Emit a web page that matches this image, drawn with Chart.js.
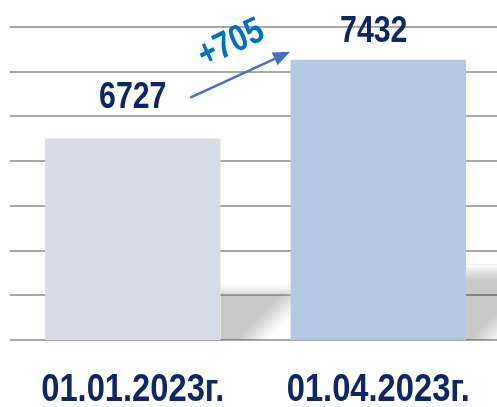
<!DOCTYPE html>
<html><head><meta charset="utf-8">
<script src="https://cdn.jsdelivr.net/npm/chart.js@4"></script>
<style>html,body{margin:0;padding:0;background:#fff;overflow:hidden;}#wrap{width:501px;height:407px;position:relative;}</style>
</head><body><div id="wrap"><canvas id="c"></canvas></div>
<script>
const categories = ['01.01.2023г.', '01.04.2023г.'];
const values = [6727, 7432];
const barColors = ['#d5dce6', '#b4c7e7'];
const yMin = 4925, yMax = 7725, yStep = 400;

const NAVY = '#0b2766';
const FONT = '"Liberation Sans", Arial, sans-serif';
const labelOffsets = [{dx: 0, dy: 31}, {dx: -4.5, dy: 18}];

function narrowText(ctx, text, x, y, size, color, squeeze, angleDeg) {
  ctx.save();
  ctx.translate(x, y);
  if (angleDeg) ctx.rotate(angleDeg * Math.PI / 180);
  ctx.scale(squeeze, 1);
  ctx.font = 'bold ' + size + 'px ' + FONT;
  ctx.fillStyle = color;
  ctx.fillText(text, 0, 0);
  ctx.restore();
}

const shadowPlugin = {
  id: 'barShadow',
  beforeDatasetsDraw(chart) {
    const ctx = chart.ctx;
    const base = chart.chartArea.bottom;
    ctx.save();
    ctx.globalCompositeOperation = 'multiply';
    chart.getDatasetMeta(0).data.forEach(bar => {
      const right = bar.x + bar.width / 2;
      const h = base - bar.y;
      const top = base - 0.27 * h;
      const fade = base - 0.215 * h;
      const w = 90, d = 57 - 0.14 * h;
      const grey = 'rgb(201,201,201)';
      ctx.save();
      ctx.beginPath(); ctx.rect(right, top, w, base - top); ctx.clip();
      const g = ctx.createLinearGradient(right + d - 7, base - 7, right + d + 9, base + 9);
      g.addColorStop(0, grey); g.addColorStop(1, 'rgb(255,255,255)');
      ctx.fillStyle = g;
      ctx.fillRect(right, top, w, base - top);
      ctx.globalCompositeOperation = 'source-over';
      const v = ctx.createLinearGradient(0, top, 0, fade);
      v.addColorStop(0, 'rgba(255,255,255,1)'); v.addColorStop(1, 'rgba(255,255,255,0)');
      ctx.fillStyle = v;
      ctx.fillRect(right, top, w, fade - top);
      ctx.restore();
    });
    ctx.restore();
  }
};

const labelPlugin = {
  id: 'valueLabels',
  afterDatasetsDraw(chart) {
    const ctx = chart.ctx;
    const bars = chart.getDatasetMeta(0).data;
    ctx.save();
    ctx.textAlign = 'center'; ctx.textBaseline = 'alphabetic';
    bars.forEach((b, i) => narrowText(ctx, String(values[i]), b.x + labelOffsets[i].dx, b.y - labelOffsets[i].dy, 37, NAVY, 0.82));
    // arrow
    const b0 = bars[0], b1 = bars[1];
    const sx = b0.x + 57.5, sy = b0.y - 41;
    const tx = b1.x - b1.width / 2 - 0.5, ty = b1.y - 8;
    const ang = Math.atan2(ty - sy, tx - sx);
    const hl = 17, hw = 7;
    const bx = tx - hl * Math.cos(ang), by = ty - hl * Math.sin(ang);
    ctx.strokeStyle = '#4472c4'; ctx.fillStyle = '#4472c4'; ctx.lineWidth = 2.5;
    ctx.beginPath(); ctx.moveTo(sx, sy); ctx.lineTo(bx, by); ctx.stroke();
    ctx.beginPath(); ctx.moveTo(tx, ty);
    ctx.lineTo(bx + hw * Math.sin(ang), by - hw * Math.cos(ang));
    ctx.lineTo(bx - hw * Math.sin(ang), by + hw * Math.cos(ang));
    ctx.closePath(); ctx.fill();
    // difference label
    const delta = values[1] - values[0];
    ctx.textBaseline = 'middle';
    narrowText(ctx, '+' + delta, (sx + tx) / 2 - 9, (sy + ty) / 2 - 31, 37, '#0070c0', 0.82, -25);
    ctx.restore();
  },
  afterDraw(chart) {
    const ctx = chart.ctx;
    const xs = chart.scales.x;
    ctx.save();
    ctx.textAlign = 'center'; ctx.textBaseline = 'alphabetic';
    xs.ticks.forEach((t, i) => {
      narrowText(ctx, xs.getLabelForValue(t.value), xs.getPixelForTick(i), xs.top + 61, 38, NAVY, 0.86);
    });
    ctx.restore();
  }
};

new Chart(document.getElementById('c'), {
  type: 'bar',
  data: {
    labels: categories,
    datasets: [{ data: values, backgroundColor: barColors, borderWidth: 0,
      categoryPercentage: 1, barPercentage: 0.714 }]
  },
  options: {
    responsive: true, maintainAspectRatio: false, animation: false,
    layout: { padding: { left: 10, right: 0, top: 27, bottom: 0 } },
    plugins: { legend: { display: false }, tooltip: { enabled: false } },
    scales: {
      x: {
        grid: { display: false, drawTicks: false }, border: { display: false },
        ticks: { display: false },
        afterFit(s) { s.height = 67; }
      },
      y: {
        min: yMin, max: yMax,
        grid: { color: '#a8a8a8', lineWidth: 2, drawTicks: false }, border: { display: false },
        ticks: { display: false },
        afterBuildTicks(s) { const t = []; for (let v = yMin; v <= yMax + 0.001; v += yStep) t.push({ value: v }); s.ticks = t; },
        afterFit(s) { s.width = 0; }
      }
    }
  },
  plugins: [shadowPlugin, labelPlugin]
});
</script></body></html>
